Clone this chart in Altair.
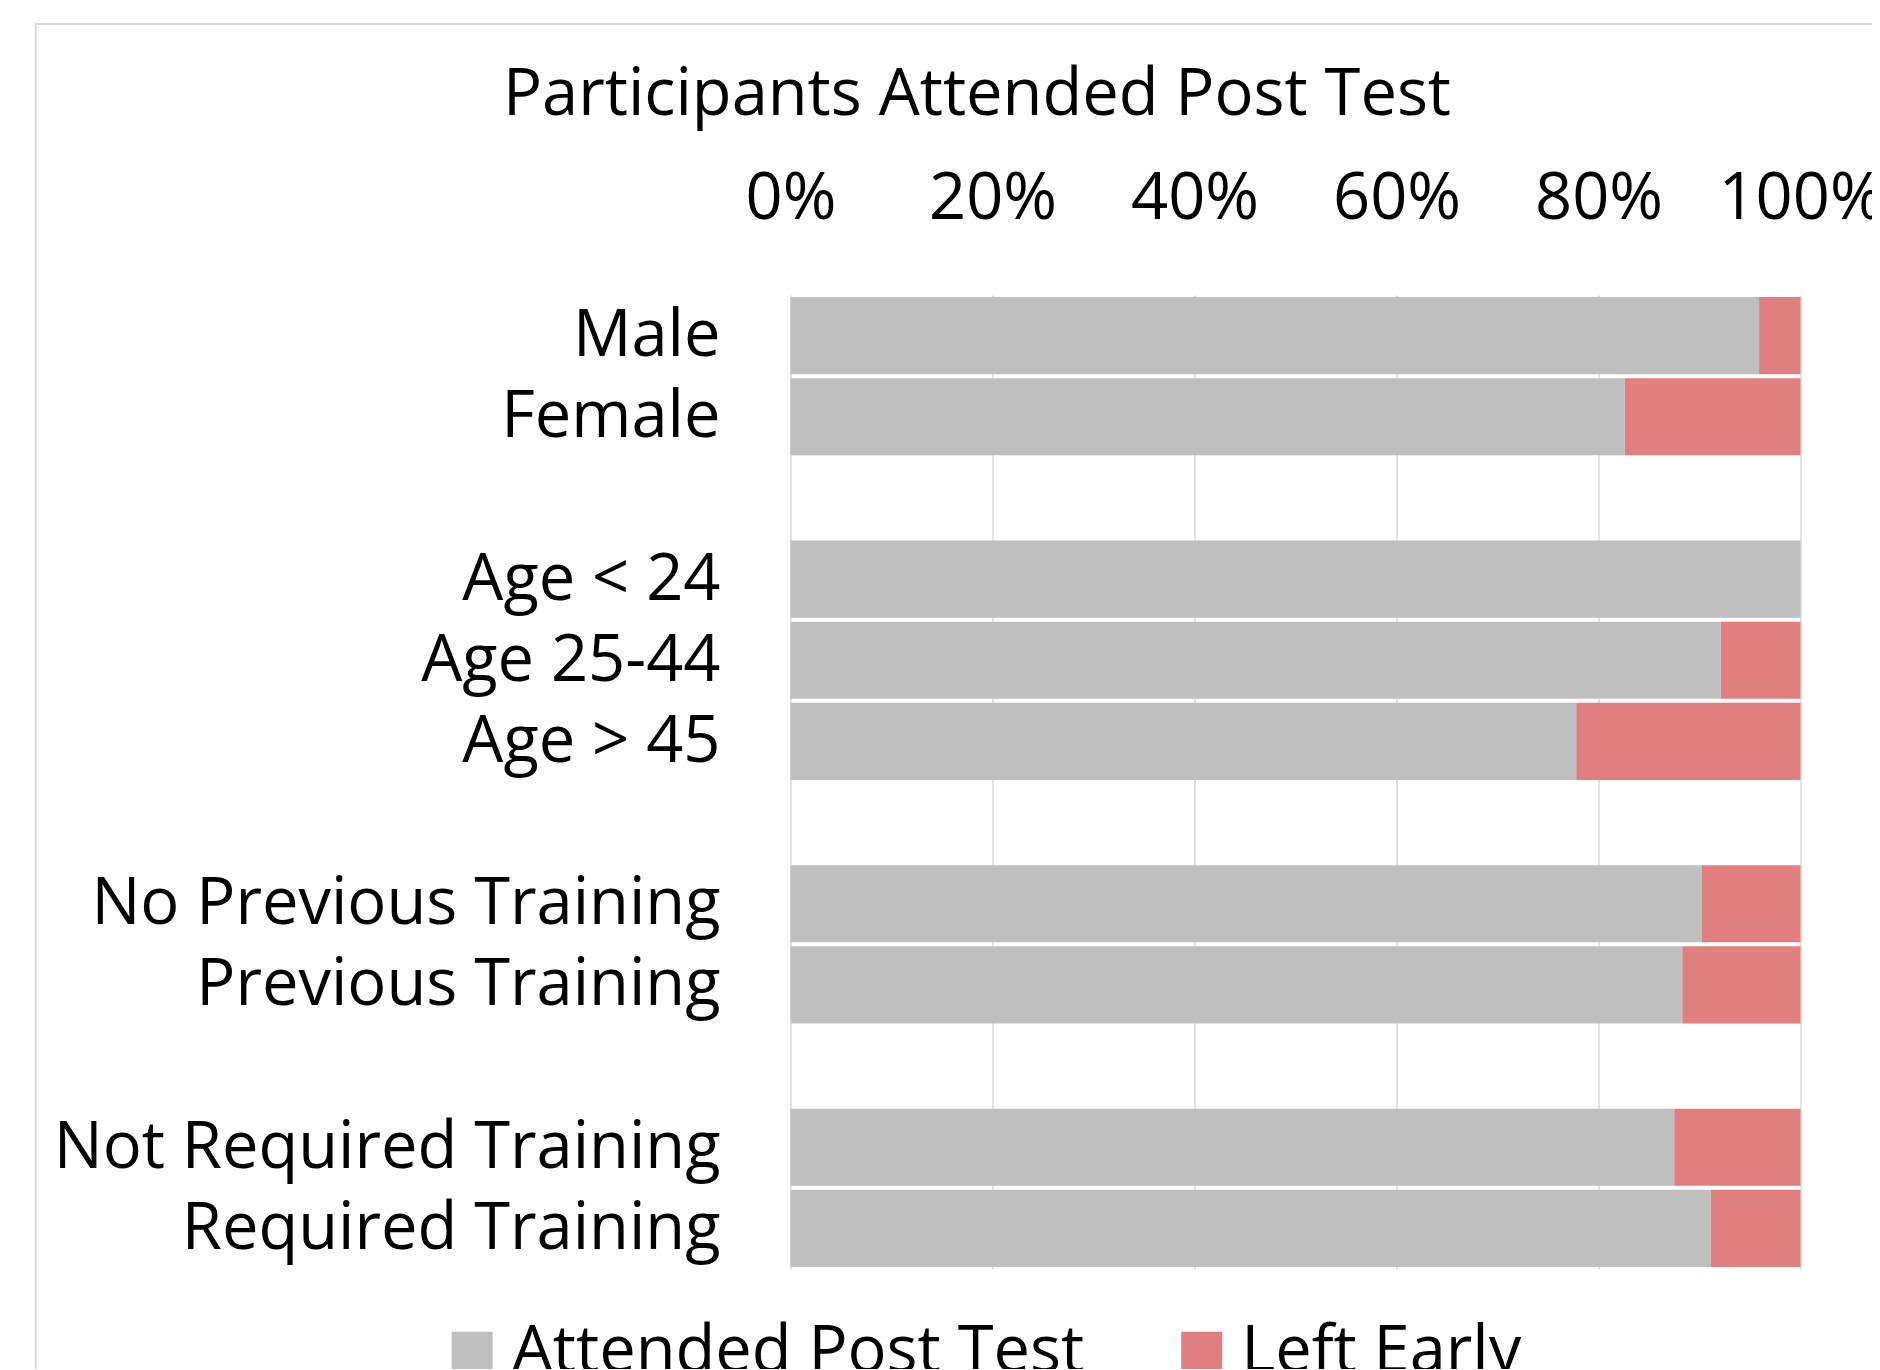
import altair as alt
import pandas as pd

# ---- data ----
categories = ["Male", "Female", "Age < 24", "Age 25-44", "Age > 45",
              "No Previous Training", "Previous Training",
              "Not Required Training", "Required Training"]
attended = [95.9, 82.6, 100.0, 92.1, 77.8, 90.2, 88.3, 87.5, 91.1]
left_early = [4.1, 17.4, 0.0, 7.9, 22.2, 9.8, 11.7, 12.5, 8.9]
series = ["Attended Post Test", "Left Early"]
colors = ["#BFBFBF", "#DF7F7F"]
x_ticks = [0, 20, 40, 60, 80, 100]
# axis slots, blank slots separate the groups
y_slots = ["Male", "Female", " ", "Age < 24", "Age 25-44", "Age > 45", "  ",
           "No Previous Training", "Previous Training", "   ",
           "Not Required Training", "Required Training"]

rows = []
for c, a, l in zip(categories, attended, left_early):
    rows.append({"category": c, "series": series[0], "value": a, "ord": 0})
    rows.append({"category": c, "series": series[1], "value": l, "ord": 1})
df = pd.DataFrame(rows)

FONT = "Open Sans"
FS = 65

bars = alt.Chart(df).mark_bar().encode(
    y=alt.Y("category:N", scale=alt.Scale(domain=y_slots, paddingInner=0.05, paddingOuter=0.025),
            axis=alt.Axis(title=None, labelFont=FONT, labelFontSize=FS, labelColor="black",
                          labelAlign="right", labelBaseline="alphabetic", labelOffset=20.5,
                          labelPadding=70.5, labelLimit=0, ticks=False, tickSize=0,
                          domain=False, grid=False)),
    x=alt.X("value:Q", stack="zero", scale=alt.Scale(domain=[0, 100], nice=False),
            axis=alt.Axis(orient="top", title=None, values=x_ticks, labelExpr="datum.value + '%'",
                          labelFont=FONT, labelFontSize=FS, labelColor="black",
                          labelBaseline="alphabetic", labelPadding=77, labelFlush=False,
                          labelOverlap=False, labelLimit=0, ticks=False, tickSize=0, domain=False,
                          grid=True, gridColor="#D9D9D9", gridWidth=1.5)),
    color=alt.Color("series:N", scale=alt.Scale(domain=series, range=colors),
                    legend=alt.Legend(title=None, orient="none", direction="horizontal",
                                      legendX=-350.8, legendY=1024.5, symbolType="square",
                                      symbolSize=1681, symbolStrokeWidth=0, labelFont=FONT,
                                      labelFontSize=FS, labelColor="black", labelOffset=7,
                                      labelLimit=0, columnPadding=84.5, padding=0)),
    order=alt.Order("ord:Q"),
)

frame = alt.Chart(alt.Data(values=[{"a": 1}])).mark_rect(
    fillOpacity=0, stroke="#D9D9D9", strokeWidth=2
).encode(
    x=alt.value(-754.8), x2=alt.value(1500), y=alt.value(-271), y2=alt.value(1500)
)

chart = alt.layer(frame, bars).properties(
    width=1010,
    height=974,
    title=alt.TitleParams("Participants Attended Post Test", font=FONT, fontSize=FS,
                          fontWeight="normal", color="black", anchor="middle",
                          frame="group", baseline="alphabetic", offset=4, limit=0,
                          dx=-318.5, dy=161),
    autosize=alt.AutoSizeParams(type="none"),
    padding={"left": 782.5, "top": 287, "right": 71, "bottom": 100},
    background="white",
).configure_view(stroke=None)

chart.save("out.html", embed_options={"renderer": "svg", "actions": False})
